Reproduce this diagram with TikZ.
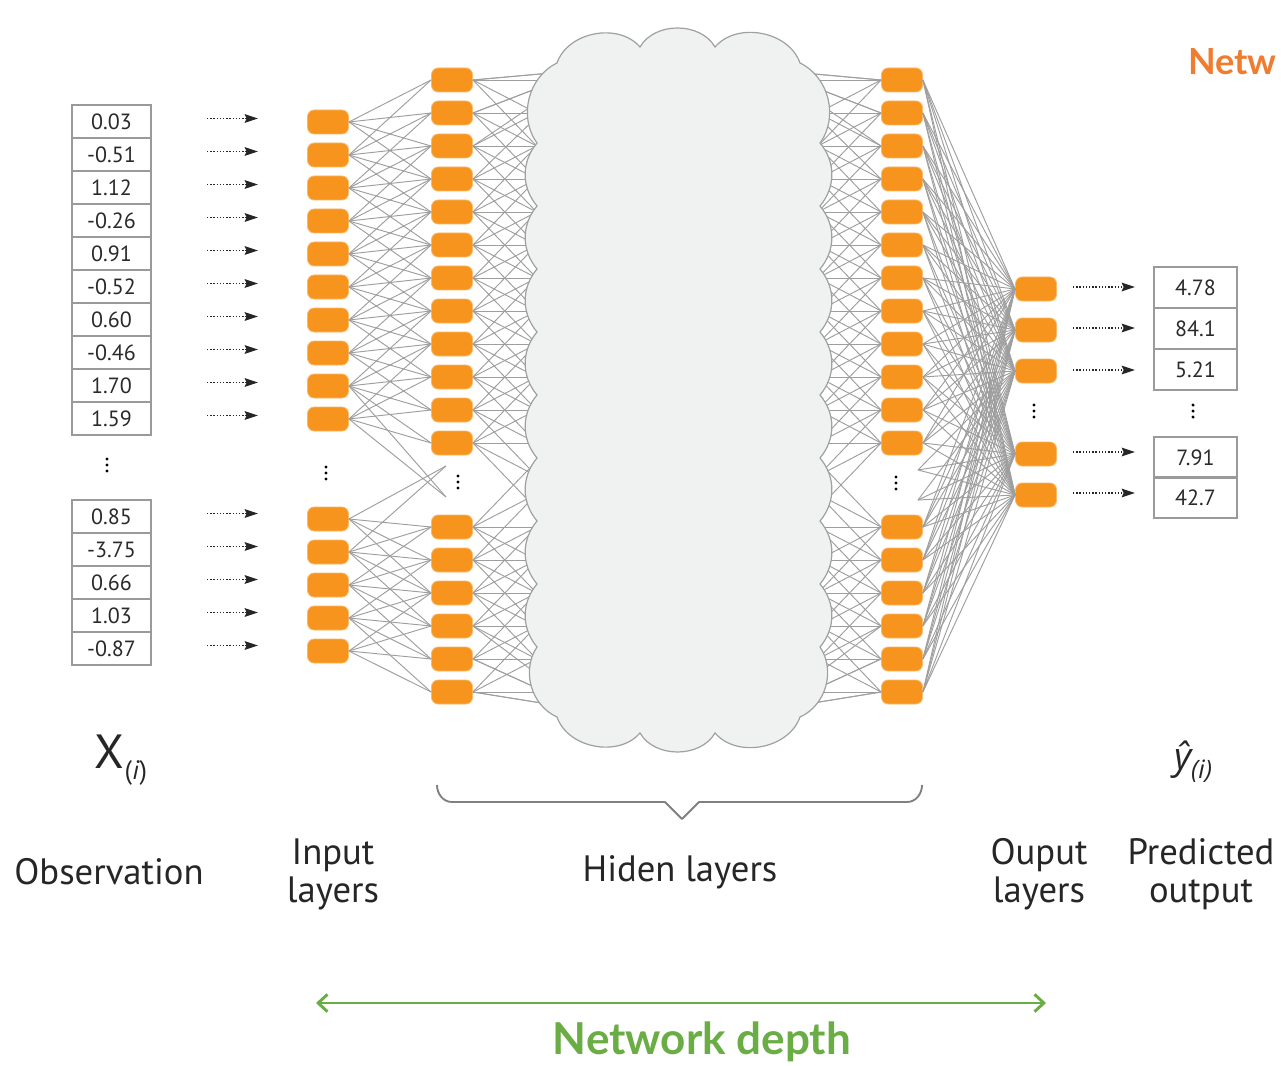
\documentclass[tikz,border=0pt]{standalone}
\usepackage{fontspec}
\setmainfont{PT Sans}
\newfontfamily\latofam{Lato}
\newfontfamily\opensans{Open Sans}
\usetikzlibrary{arrows.meta}
\definecolor{neuronor}{HTML}{F7941D}
\definecolor{neuronedge}{HTML}{FBB866}
\definecolor{cloudfill}{HTML}{F0F1F1}
\definecolor{cloudline}{HTML}{A0A0A0}
\definecolor{wirecol}{HTML}{9E9E9E}
\definecolor{cellline}{HTML}{9A9A9A}
\definecolor{txt}{HTML}{2A2A2A}
\definecolor{depthgreen}{HTML}{6AAD45}
\definecolor{widthorange}{HTML}{EF7D31}
\tikzset{
  neuron/.style={fill=neuronor, draw=neuronedge, line width=0.6pt, rounded corners=5pt,
    minimum width=30.75pt, minimum height=18pt, inner sep=0pt},
  cell/.style={draw=cellline, line width=1pt, minimum width=59.25pt, minimum height=24.75pt,
    inner sep=0pt, text=txt, font=\fontsize{16.5}{16.5}\selectfont},
  ocell/.style={cell, minimum width=62.25pt, minimum height=30.75pt},
  wire/.style={draw=wirecol, line width=0.7pt},
  feed/.style={draw=black!85, line width=1pt, dash pattern=on 1pt off 1.4pt,
    -{Stealth[length=10pt,width=6.5pt,inset=1.5pt]}},
  lbl/.style={font=\fontsize{27.5}{28.5}\selectfont, text=black!85, align=center, inner sep=0pt},
  brace/.style={draw=black!50, line width=1.4pt, line join=round},
  depth/.style={draw=depthgreen, line width=2.2pt,
    {Straight Barb[length=7pt,width=13pt,line width=2.2pt]}-{Straight Barb[length=7pt,width=13pt,line width=2.2pt]}},
  vdots/.pic={\fill (0,-6) circle (1.3pt); \fill (0,0) circle (1.3pt); \fill (0,6) circle (1.3pt);}
}
\begin{document}
\begin{tikzpicture}[x=0.75pt,y=-0.75pt]
\fill[white] (0,0) rectangle (1281,1066);
\useasboundingbox (0,0) rectangle (1281,1066);

% observation table
\foreach \v/\y [count=\k] in {0.03/121.5,-0.51/154.5,1.12/187.5,-0.26/220.5,0.91/253.5,-0.52/286.5,0.60/319.5,-0.46/352.5,1.70/385.5,1.59/418.5,0.85/516.5,-3.75/549.5,0.66/582.5,1.03/615.5,-0.87/648.5}{
  \node[cell] (x\k) at (111.5,\y) {\v};
  \coordinate (fa\k) at (207,\y-3);
  \coordinate (fb\k) at (258,\y-3);
  \draw[feed] (fa\k) -- (fb\k);
}
\pic at (107,465) {vdots};

% input layer
\foreach \y [count=\k] in {122,155,188,221,254,287,320,353,386,419,519,552,585,618,651}{
  \node[neuron] (in\k) at (328,\y) {};
}
\pic at (326,473) {vdots};

% hidden layers (first and last)
\foreach \y [count=\j] in {80,113,146,179,212,245,278,311,344,377,410,443,527,560,593,626,659,692}{
  \node[neuron] (ha\j) at (452,\y) {};
  \node[neuron] (hb\j) at (902,\y) {};
}
\pic at (458,482) {vdots};
\pic at (896,483) {vdots};

% output layer
\foreach \y [count=\m] in {289,330,371,454,495}{
  \node[neuron] (ou\m) at (1036,\y) {};
}
\pic at (1034,411) {vdots};

% input -> first hidden
\foreach \k in {1,...,10}{
  \foreach \d in {-2,...,2}{
    \pgfmathtruncatemacro\j{\k+1+\d}
    \ifnum\j>0 \ifnum\j<13 \draw[wire] (in\k.east) -- (ha\j.west); \fi\fi
  }
}
\foreach \k in {11,...,15}{
  \foreach \d in {-2,...,2}{
    \pgfmathtruncatemacro\j{\k+2+\d}
    \ifnum\j>12 \ifnum\j<19 \draw[wire] (in\k.east) -- (ha\j.west); \fi\fi
  }
}
\coordinate (dA) at (446,466);
\coordinate (dB) at (446,497);
\draw[wire] (in9.east) -- (dB);
\draw[wire] (in10.east) -- (dB);
\draw[wire] (in11.east) -- (dA);
\draw[wire] (in12.east) -- (dA);

% hidden <-> cloud
\foreach \y [count=\j] in {80,113,146,179,212,245,278,311,344,377,410,443,527,560,593,626,659,692}{
  \foreach \d in {-2,...,2}{
    \pgfmathsetmacro\ey{max(70,min(710,\y+\d*58))}
    \pgfmathtruncatemacro\e{\d+3}
    \coordinate (cl\j x\e) at (585,\ey);
    \coordinate (cr\j x\e) at (770,\ey);
    \draw[wire] (ha\j.east) -- (cl\j x\e);
    \draw[wire] (cr\j x\e) -- (hb\j.west);
  }
}

% last hidden -> output
\foreach \j in {1,...,18}{
  \foreach \m in {1,...,5}{
    \draw[wire] (hb\j.east) -- (ou\m.west);
  }
}
\coordinate (dC) at (918,470);
\coordinate (dD) at (918,500);
\foreach \m in {3,4,5}{
  \draw[wire] (dC) -- (ou\m.west);
  \draw[wire] (dD) -- (ou\m.west);
}

% cloud
\path[fill=cloudfill, draw=cloudline, line width=0.9pt]
  (557,63) to[bend left=60] (640,47) to[bend left=60] (715,47) to[bend left=60] (800,63)
  to[bend left=50] (820,143)
  to[bend left=40] (820,206) to[bend left=40] (820,269) to[bend left=40] (820,332)
  to[bend left=40] (820,395) to[bend left=40] (820,458) to[bend left=40] (820,521)
  to[bend left=40] (820,584) to[bend left=40] (820,647)
  to[bend left=50] (800,717)
  to[bend left=60] (715,733) to[bend left=60] (640,733) to[bend left=60] (557,717)
  to[bend left=50] (537,647)
  to[bend left=40] (537,584) to[bend left=40] (537,521) to[bend left=40] (537,458)
  to[bend left=40] (537,395) to[bend left=40] (537,332) to[bend left=40] (537,269)
  to[bend left=40] (537,206) to[bend left=40] (537,143)
  to[bend left=50] (557,63) -- cycle;

% output arrows and table
\foreach \v/\y/\ay [count=\m] in {4.78/287.5/287,84.1/328.5/328,5.21/369.5/370,7.91/457.5/452,42.7/497.5/493}{
  \node[ocell] (p\m) at (1195.5,\y) {\v};
  \coordinate (ga\m) at (1073,\ay);
  \coordinate (gb\m) at (1135,\ay);
  \draw[feed] (ga\m) -- (gb\m);
}
\pic at (1193,411) {vdots};

% brace
\coordinate (bl) at (437,785);
\coordinate (br) at (922,785);
\coordinate (bt) at (682,819);
\draw[brace] (bl) to[out=-90,in=180] (452,802) -- (665,802) -- (bt) -- (699,802) -- (907,802) to[out=0,in=-90] (br);

% labels
\node[text=black!85, inner sep=0pt] (xi) at (121,760) {\fontsize{36}{36}\selectfont X\raisebox{-8pt}{\fontsize{20}{20}\selectfont(\textit{i})}};
\node[text=black!85, inner sep=0pt] (yi) at (1193,762) {\opensans\itshape\fontsize{28}{28}\selectfont ŷ\raisebox{-7pt}{\fontsize{19}{19}\selectfont(i)}};
\node[lbl] (obs) at (109,872) {Observation};
\node[lbl] (inl) at (333,874) {Input\\layers};
\node[lbl] (hid) at (680,872) {Hiden layers};
\node[lbl] (oul) at (1039,874) {Ouput\\layers};
\node[lbl] (pred) at (1201,874) {Predicted\\output};
\node[anchor=west, text=widthorange, font=\latofam\bfseries\fontsize{27}{27}\selectfont, inner sep=0pt] (netw) at (1188,62) {Netw};

% network depth
\coordinate (dl) at (316,1003);
\coordinate (dr) at (1046,1003);
\draw[depth] (dl) -- (dr);
\node[text=depthgreen, font=\latofam\bfseries\fontsize{33}{33}\selectfont, inner sep=0pt] (depthlbl) at (702,1042) {Network depth};
\end{tikzpicture}
\end{document}
